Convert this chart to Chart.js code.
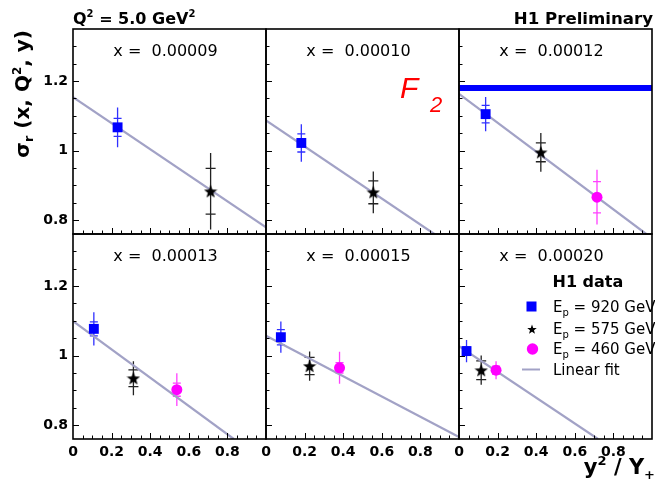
<!DOCTYPE html>
<html>
<head>
<meta charset="utf-8">
<script src="https://cdn.jsdelivr.net/npm/chart.js@4"></script>
<style>
  html, body { margin: 0; padding: 0; background: #fff; overflow: hidden; }
  #wrap { position: absolute; left: 0; top: 0; width: 660px; height: 487px; }
</style>
</head>
<body>
<div id="wrap"><canvas id="chart" width="660" height="487"></canvas></div>
<script>
const panelLabels = ['x =  0.00009', 'x =  0.00010', 'x =  0.00012', 'x =  0.00013', 'x =  0.00015', 'x =  0.00020'];

// E_p = 920 GeV
const blueX = [0.231, 0.183, 0.138, 0.108, 0.077, 0.039];
const blueY = [1.067, 1.022, 1.105, 1.077, 1.053, 1.013];
const blueStat = [0.026, 0.026, 0.025, 0.020, 0.022, 0.012];
const blueTot = [0.057, 0.054, 0.049, 0.048, 0.045, 0.032];
// E_p = 575 GeV
const starX = [0.713, 0.556, 0.424, 0.313, 0.226, 0.115];
const starY = [0.883, 0.880, 0.995, 0.935, 0.970, 0.958];
const starStat = [0.066, 0.033, 0.027, 0.024, 0.025, 0.027];
const starTot = [0.110, 0.060, 0.056, 0.049, 0.042, 0.042];
// E_p = 460 GeV
const pinkX = [null, null, 0.715, 0.538, 0.381, 0.192];
const pinkY = [null, null, 0.866, 0.902, 0.965, 0.958];
const pinkStat = [null, null, 0.045, 0.019, 0.015, 0.012];
const pinkTot = [null, null, 0.079, 0.047, 0.046, 0.026];
// linear fit, end points per panel
const fitX0 = [0, 0, 0, 0, 0, 0];
const fitY0 = [1.154, 1.087, 1.163, 1.099, 1.057, 1.027];
const fitX1 = [1.0, 0.872, 0.97, 0.833, 1.0, 0.72];
const fitY1 = [0.779, 0.76, 0.76, 0.76, 0.766, 0.76];
// F2 band drawn in the third panel
const f2Level = 1.18;

const xTicks = [0, 0.2, 0.4, 0.6, 0.8];
const yTicks = [0.8, 1, 1.2];
const xRange = [0, 1];
const yRange = [0.76, 1.35];

const FONT = '"DejaVu Sans", sans-serif';
const tickFont = { family: FONT, size: 14, weight: 'bold' };

function makeStar(size) {
    const c = document.createElement('canvas');
    c.width = size; c.height = size;
    const g = c.getContext('2d');
    const r = size / 2, ri = r * 0.42;
    g.beginPath();
    for (let i = 0; i < 10; i++) {
        const a = -Math.PI / 2 + i * Math.PI / 5;
        const rr = i % 2 ? ri : r;
        g.lineTo(r + rr * Math.cos(a), r + 0.6 + rr * Math.sin(a));
    }
    g.closePath();
    g.fillStyle = '#000';
    g.fill();
    return c;
}
const starBig = makeStar(14);
const starSmall = makeStar(10);

const panelAxes = p => ({ xAxisID: 'x' + (p % 3), yAxisID: p < 3 ? 'yTop' : 'yBot' });

const datasets = [];
for (let p = 0; p < 6; p++) {
    const ax = panelAxes(p);
    datasets.push({ type: 'scatter', ...ax, data: [{ x: blueX[p], y: blueY[p] }],
        pointStyle: 'rect', pointRadius: 7, backgroundColor: '#0000ff', borderWidth: 0, order: 1 });
    datasets.push({ type: 'scatter', ...ax, data: [{ x: starX[p], y: starY[p] }],
        pointStyle: starBig, pointRadius: 7, order: 1 });
    if (pinkX[p] !== null) {
        datasets.push({ type: 'scatter', ...ax, data: [{ x: pinkX[p], y: pinkY[p] }],
            pointStyle: 'circle', pointRadius: 5.5, backgroundColor: '#ff00ff', borderWidth: 0, order: 1 });
    }
    datasets.push({ type: 'line', ...ax, data: [{ x: fitX0[p], y: fitY0[p] }, { x: fitX1[p], y: fitY1[p] }],
        borderColor: '#a2a2c6', borderWidth: 2.2, pointRadius: 0, fill: false, order: 2 });
}
datasets.push({ type: 'line', ...panelAxes(2), data: [{ x: xRange[0], y: f2Level }, { x: xRange[1], y: f2Level }],
    borderColor: '#0000ff', borderWidth: 6, pointRadius: 0, fill: false, order: 2 });

const scales = {};
['x0', 'x1', 'x2'].forEach(id => {
    scales[id] = {
        type: 'linear', position: 'bottom', stack: 'cols', stackWeight: 1,
        min: xRange[0], max: xRange[1],
        grid: { display: false, drawTicks: false }, border: { display: false },
        afterBuildTicks: s => { s.ticks = xTicks.map(v => ({ value: v })); },
        afterFit: s => { s.height = 48; },
        ticks: { font: tickFont, color: '#000', padding: 5, maxRotation: 0, autoSkip: false,
            callback: v => String(v) }
    };
});
[['yTop', 1], ['yBot', 0]].forEach(([id, w]) => {
    scales[id] = {
        type: 'linear', position: 'left', stack: 'rows', stackWeight: 1, weight: w,
        min: yRange[0], max: yRange[1],
        grid: { display: false, drawTicks: false }, border: { display: false },
        afterBuildTicks: s => { s.ticks = yTicks.map(v => ({ value: v })); },
        afterFit: s => { s.width = 73; },
        ticks: { font: tickFont, color: '#000', padding: 5, autoSkip: false,
            callback: v => String(v) }
    };
});

function drawRich(ctx, parts, x, y, align) {
    let total = 0;
    parts.forEach(pt => { ctx.font = pt.font; total += ctx.measureText(pt.t).width; });
    let cx = align === 'right' ? x - total : align === 'center' ? x - total / 2 : x;
    ctx.textAlign = 'left';
    ctx.textBaseline = 'alphabetic';
    parts.forEach(pt => {
        ctx.font = pt.font;
        ctx.fillText(pt.t, cx, y + (pt.dy || 0));
        cx += ctx.measureText(pt.t).width;
    });
}

const decor = {
    id: 'decor',
    beforeDatasetsDraw(chart) {
        const ctx = chart.ctx;
        ctx.save();
        for (let p = 0; p < 6; p++) {
            const xs = chart.scales['x' + (p % 3)];
            const ys = chart.scales[p < 3 ? 'yTop' : 'yBot'];
            const bars = (xv, yv, st, tot, color, cap) => {
                if (xv === null) return;
                const px = xs.getPixelForValue(xv);
                ctx.strokeStyle = color;
                ctx.lineWidth = 1.3;
                ctx.beginPath();
                ctx.moveTo(px, ys.getPixelForValue(yv - tot));
                ctx.lineTo(px, ys.getPixelForValue(yv + tot));
                [yv - st, yv + st].forEach(v => {
                    const py = ys.getPixelForValue(v);
                    ctx.moveTo(px - cap, py);
                    ctx.lineTo(px + cap, py);
                });
                ctx.stroke();
            };
            bars(blueX[p], blueY[p], blueStat[p], blueTot[p], '#3030ff', 4);
            bars(starX[p], starY[p], starStat[p], starTot[p], '#222', 5);
            bars(pinkX[p], pinkY[p], pinkStat[p], pinkTot[p], '#ff40ff', 4);
        }
        ctx.restore();
    },
    afterDraw(chart) {
        const ctx = chart.ctx;
        ctx.save();
        ctx.fillStyle = '#000';
        ctx.strokeStyle = '#000';
        for (let p = 0; p < 6; p++) {
            const xs = chart.scales['x' + (p % 3)];
            const ys = chart.scales[p < 3 ? 'yTop' : 'yBot'];
            const L = xs.left, R = xs.right, T = ys.top, B = ys.bottom;
            ctx.lineWidth = 1;
            ctx.beginPath();
            for (let v = 0.8; v < yRange[1]; v += 0.05) {
                const py = Math.round(ys.getPixelForValue(v)) + 0.5;
                const major = yTicks.some(t => Math.abs(t - v) < 1e-6);
                ctx.moveTo(L, py);
                ctx.lineTo(L + (major ? 6 : 3.5), py);
            }
            for (let v = 0.05; v < xRange[1]; v += 0.05) {
                const px = Math.round(xs.getPixelForValue(v)) + 0.5;
                const major = xTicks.some(t => Math.abs(t - v) < 1e-6);
                ctx.moveTo(px, B);
                ctx.lineTo(px, B - (major ? 6 : 3.5));
            }
            ctx.stroke();
            ctx.lineWidth = 1.6;
            ctx.strokeRect(L, T, R - L, B - T);

            ctx.font = '16px ' + FONT;
            ctx.textAlign = 'center';
            ctx.textBaseline = 'alphabetic';
            ctx.fillText(panelLabels[p], (L + R) / 2 - 4, T + 26.5);
        }

        const bold = s => 'bold ' + s + 'px ' + FONT;
        const reg = s => s + 'px ' + FONT;
        drawRich(ctx, [{ t: 'Q', font: bold(16) }, { t: '2', font: bold(10), dy: -7 },
            { t: ' = 5.0 GeV', font: bold(16) }, { t: '2', font: bold(10), dy: -7 }], 73, 24, 'left');
        drawRich(ctx, [{ t: 'H1 Preliminary', font: bold(16.6) }], 653, 23.5, 'right');

        // y title
        ctx.save();
        ctx.translate(29, 30);
        ctx.rotate(-Math.PI / 2);
        drawRich(ctx, [{ t: '\u03c3', font: bold(20) }, { t: 'r', font: bold(13), dy: 4 },
            { t: ' (x, Q', font: bold(20) }, { t: '2', font: bold(12), dy: -8 }, { t: ', y)', font: bold(20) }], 0, 0, 'right');
        ctx.restore();

        // x title
        drawRich(ctx, [{ t: 'y', font: bold(21) }, { t: '2', font: bold(13), dy: -9 },
            { t: ' / Y', font: bold(21) }, { t: '+', font: bold(13), dy: 5 }], 655, 473.5, 'right');

        // F2 label
        ctx.fillStyle = '#ff0000';
        ctx.font = 'italic 30px "Liberation Sans", sans-serif';
        ctx.fillText('F', 400, 97.5);
        ctx.font = 'italic 22px "Liberation Sans", sans-serif';
        ctx.fillText('2', 430, 112);

        // legend
        ctx.fillStyle = '#000';
        drawRich(ctx, [{ t: 'H1 data', font: bold(16) }], 552.5, 287, 'left');
        const entries = ['920', '575', '460'];
        const base = [311.5, 333.5, 354];
        entries.forEach((e, i) => {
            drawRich(ctx, [{ t: 'E', font: reg(15) }, { t: 'p', font: reg(10), dy: 4 },
                { t: ' = ' + e + ' GeV', font: reg(15) }], 553, base[i], 'left');
        });
        drawRich(ctx, [{ t: 'Linear fit', font: reg(15) }], 553, 375, 'left');
        ctx.fillStyle = '#0000ff';
        ctx.fillRect(526.5, 301.5, 10, 10);
        ctx.drawImage(starSmall, 527, 324);
        ctx.fillStyle = '#ff00ff';
        ctx.beginPath();
        ctx.arc(532.5, 349, 5.7, 0, Math.PI * 2);
        ctx.fill();
        ctx.strokeStyle = '#a2a2c6';
        ctx.lineWidth = 2;
        ctx.beginPath();
        ctx.moveTo(522, 369.5);
        ctx.lineTo(540, 369.5);
        ctx.stroke();
        ctx.restore();
    }
};

new Chart(document.getElementById('chart').getContext('2d'), {
    data: { datasets },
    options: {
        responsive: false,
        animation: false,
        events: [],
        layout: { padding: { top: 29, left: 0, right: 0, bottom: 0 } },
        plugins: { legend: { display: false }, tooltip: { enabled: false } },
        scales
    },
    plugins: [decor]
});
</script>
</body>
</html>
